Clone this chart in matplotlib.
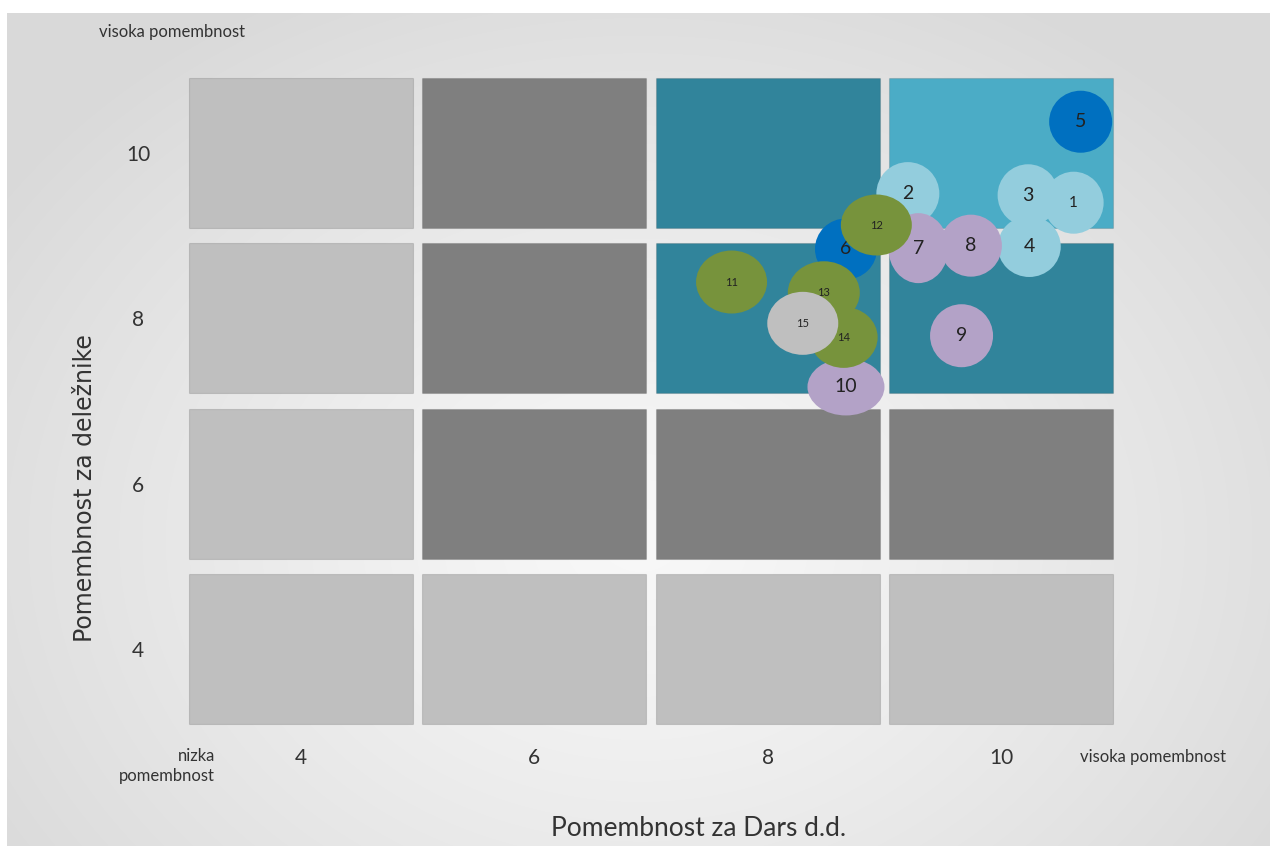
import matplotlib
matplotlib.use('Agg')
import matplotlib.pyplot as plt
from matplotlib.patches import Rectangle, Ellipse
import numpy as np

# celice matrike (vrstice od spodaj navzgor, stolpci od leve proti desni)
x_edges = [3, 5, 7, 9, 11]
y_edges = [3, 5, 7, 9, 11]
cell_colors = [
    ['#BFBFBF', '#BFBFBF', '#BFBFBF', '#BFBFBF'],   # 3-5
    ['#BFBFBF', '#7F7F7F', '#7F7F7F', '#7F7F7F'],   # 5-7
    ['#BFBFBF', '#7F7F7F', '#31849B', '#31849B'],   # 7-9
    ['#BFBFBF', '#7F7F7F', '#31849B', '#4BACC6'],   # 9-11
]

# teme (mehurcki)
oznake = [str(i) for i in range(1, 16)]
dars = [10.62, 9.20, 10.23, 10.24, 10.68, 8.67, 9.29, 9.74, 9.66, 8.67,
        7.69, 8.93, 8.48, 8.65, 8.30]
delezniki = [9.40, 9.51, 9.49, 8.87, 10.38, 8.84, 8.85, 8.88, 7.79, 7.17,
             8.44, 9.13, 8.31, 7.77, 7.94]
skupine = ['a', 'a', 'a', 'a', 'b', 'b', 'c', 'c', 'c', 'c',
           'd', 'd', 'd', 'd', 'e']
# premer mehurcka v pikslih (sirina, visina)
premer_w = [60, 63, 61, 63, 63, 62, 60, 62, 63, 77, 71, 71, 72, 68, 71]
premer_h = [62, 63, 62, 61, 62, 61, 70, 62, 63, 57, 63, 61, 63, 61, 63]

barve = {'a': '#93CDDD', 'b': '#0070C0', 'c': '#B3A2C7',
         'd': '#77933C', 'e': '#BFBFBF'}

W, H = 1270, 846
fig = plt.figure(figsize=(W / 100, H / 100), dpi=100)
fig.patch.set_facecolor('white')

# ozadje z radialnim prelivom
bg = fig.add_axes([7 / W, 0, 1 - 7 / W, 1 - 13 / H])
yy, xx = np.mgrid[13:H, 7:W]
r = np.hypot((xx - 640) / 780.0, (yy - 540) / 620.0)
shade = 0.972 - 0.12 * np.clip(r, 0, 1) ** 1.2
bg.imshow(np.dstack([shade] * 3), aspect='auto', extent=[0, 1, 0, 1],
          interpolation='bilinear')
bg.set_axis_off()

left, right, top, bottom = 184, 1118, 70.5, 731.5
ax = fig.add_axes([left / W, 1 - bottom / H, (right - left) / W, (bottom - top) / H])
ax.set_xlim(3, 11)
ax.set_ylim(3, 11)
ax.patch.set_visible(False)
for s in ax.spines.values():
    s.set_visible(False)

px_x = (right - left) / 8.0
px_y = (bottom - top) / 8.0
gx = 4.8 / px_x
gy = 7.5 / px_y

for i in range(4):
    for j in range(4):
        ax.add_patch(Rectangle((x_edges[j] + gx, y_edges[i] + gy),
                               x_edges[j + 1] - x_edges[j] - 2 * gx,
                               y_edges[i + 1] - y_edges[i] - 2 * gy,
                               facecolor=cell_colors[i][j],
                               edgecolor=(0, 0, 0, 0.12), lw=0.8, zorder=1))

narrow = ['Lato', 'DejaVu Sans']

for k in range(len(oznake)):
    ax.add_patch(Ellipse((dars[k], delezniki[k]), premer_w[k] / px_x,
                         premer_h[k] / px_y, facecolor=barve[skupine[k]],
                         edgecolor='none', zorder=2 + k))
    if k >= 10:
        fs = 8
    elif oznake[k] == '1':
        fs = 11
    else:
        fs = 14
    ax.text(dars[k], delezniki[k], oznake[k], ha='center', va='center',
            fontsize=fs, color='#222222', family=narrow, zorder=2.5 + k)

ax.set_xticks([4, 6, 8, 10])
ax.set_yticks([4, 6, 8, 10])
ax.set_xticklabels(['4', '6', '8', '10'], family=narrow, fontsize=15, color='#333333')
ax.set_yticklabels(['4', '6', '8', '10'], family=narrow, fontsize=15, color='#333333',
                   ha='center')
ax.tick_params(axis='x', length=0, pad=12)
ax.tick_params(axis='y', length=0, pad=33)

fig.text(172 / W, 1 - 32 / H, 'visoka pomembnost', ha='center', va='center',
         fontsize=12, color='#333333', family=narrow)
fig.text(1080 / W, 1 - 757 / H, 'visoka pomembnost', ha='left', va='center',
         fontsize=12, color='#333333', family=narrow)
fig.text(215 / W, 1 - 766 / H, 'nizka\npomembnost', ha='right', va='center',
         fontsize=12, color='#333333', family=narrow, linespacing=1.3)
fig.text(699 / W, 1 - 828 / H, 'Pomembnost za Dars d.d.', ha='center',
         va='center', fontsize=19, color='#333333', family=narrow)
fig.text(85 / W, 1 - 488 / H, 'Pomembnost za deležnike', ha='center',
         va='center', rotation=90, fontsize=17, color='#333333')

plt.savefig('out.png', dpi=100)
